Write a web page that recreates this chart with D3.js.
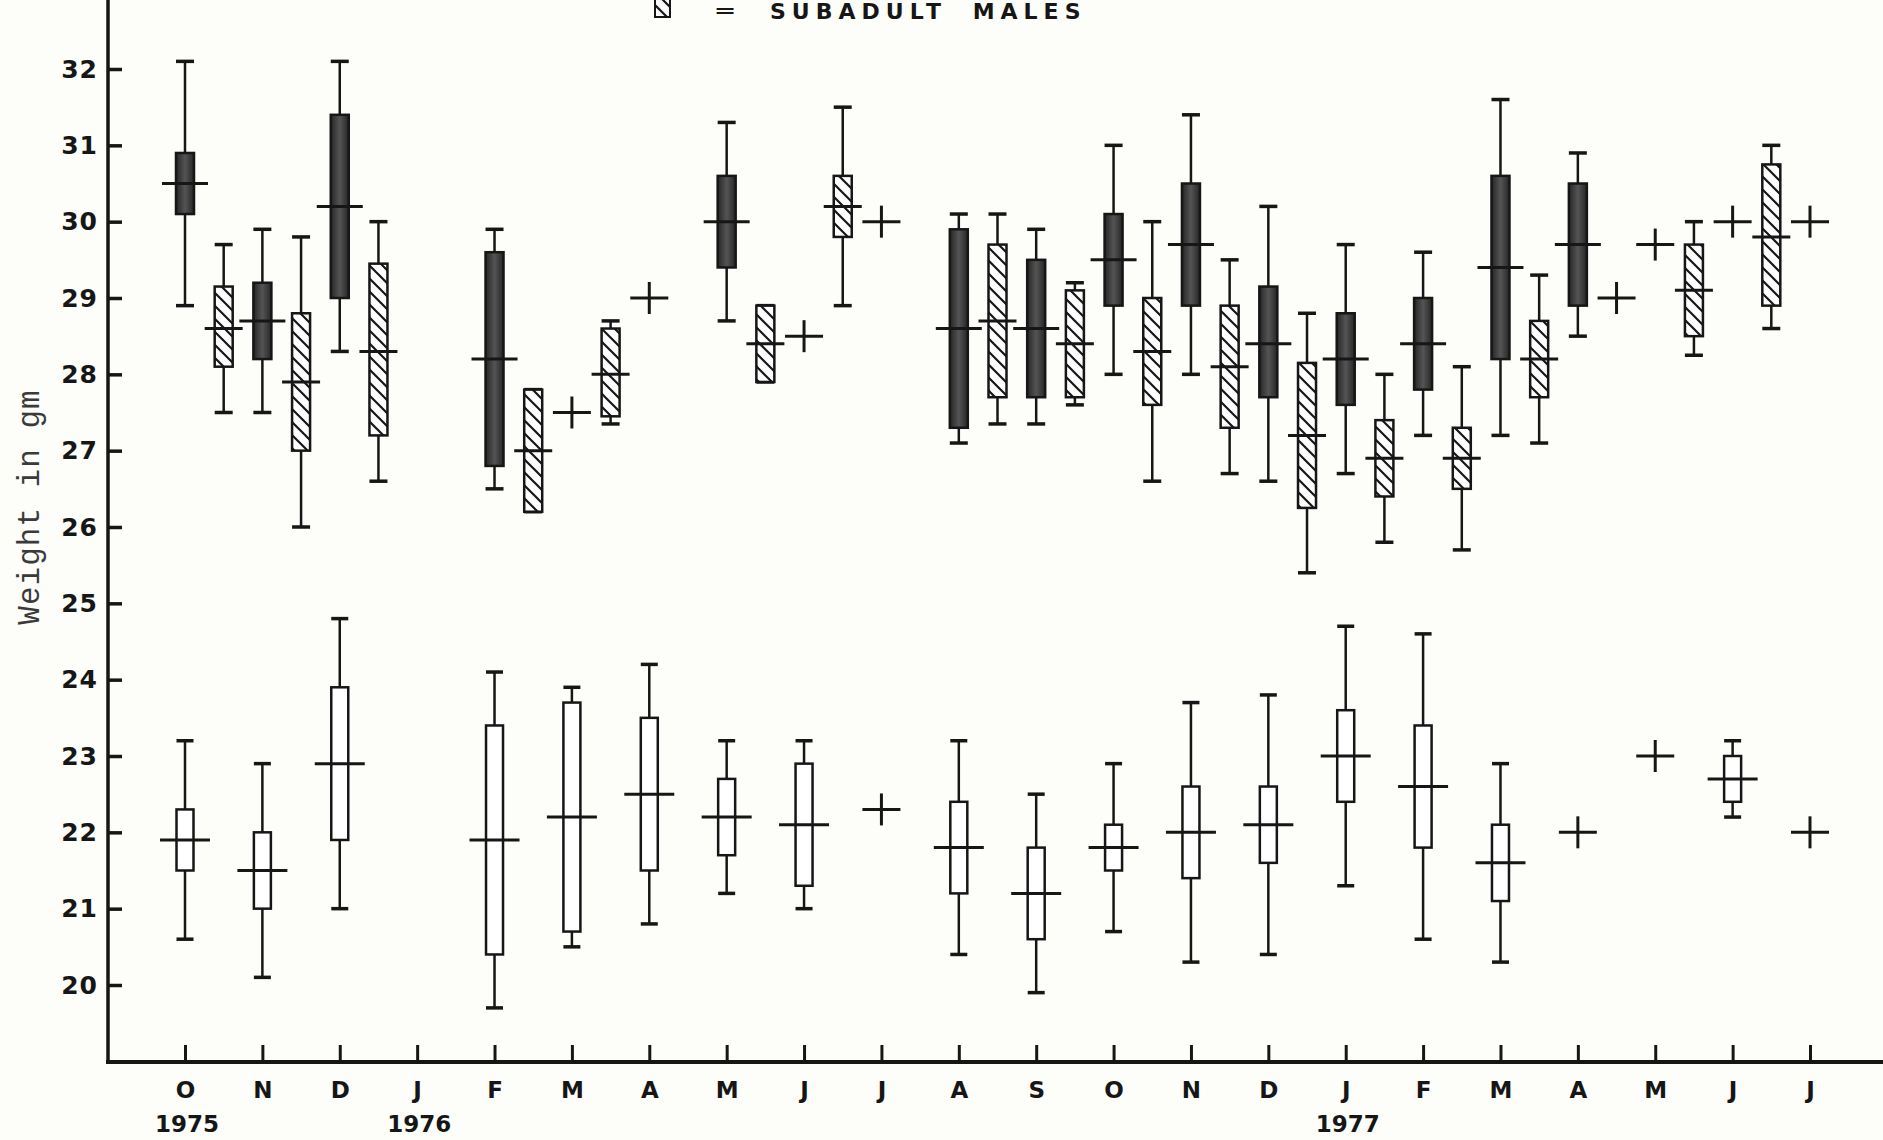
<!DOCTYPE html>
<html>
<head>
<meta charset="utf-8">
<script src="https://cdn.jsdelivr.net/npm/d3@7"></script>
<style>
  body { margin: 0; background: #fdfdf9; }
  svg { display: block; }
</style>
</head>
<body>
<div id="chart"></div>
<script>
// Months on the x axis, Oct 1975 - Jul 1977
const months = ["O", "N", "D", "J", "F", "M", "A", "M", "J", "J", "A",
                "S", "O", "N", "D", "J", "F", "M", "A", "M", "J", "J"];
const yearLabels = ["1975", "1976", "1977"];
const yearAt = [0, 3, 15]; // month index under which each year sits
const yTicks = [20, 21, 22, 23, 24, 25, 26, 27, 28, 29, 30, 31, 32];

// [min, box low, mean, box high, max]; a plain number = single animal (+); null = no sample
const adultMales = [
    [28.9, 30.1, 30.5, 30.9, 32.1],
    [27.5, 28.2, 28.7, 29.2, 29.9],
    [28.3, 29.0, 30.2, 31.4, 32.1],
    null,
    [26.5, 26.8, 28.2, 29.6, 29.9],
    27.5,
    29.0,
    [28.7, 29.4, 30.0, 30.6, 31.3],
    28.5,
    30.0,
    [27.1, 27.3, 28.6, 29.9, 30.1],
    [27.35, 27.7, 28.6, 29.5, 29.9],
    [28.0, 28.9, 29.5, 30.1, 31.0],
    [28.0, 28.9, 29.7, 30.5, 31.4],
    [26.6, 27.7, 28.4, 29.15, 30.2],
    [26.7, 27.6, 28.2, 28.8, 29.7],
    [27.2, 27.8, 28.4, 29.0, 29.6],
    [27.2, 28.2, 29.4, 30.6, 31.6],
    [28.5, 28.9, 29.7, 30.5, 30.9],
    29.7,
    30.0,
    30.0
];

const subadultMales = [
    [27.5, 28.1, 28.6, 29.15, 29.7],
    [26.0, 27.0, 27.9, 28.8, 29.8],
    [26.6, 27.2, 28.3, 29.45, 30.0],
    null,
    [26.2, 26.2, 27.0, 27.8, 27.8],
    [27.35, 27.45, 28.0, 28.6, 28.7],
    null,
    [27.9, 27.9, 28.4, 28.9, 28.9],
    [28.9, 29.8, 30.2, 30.6, 31.5],
    null,
    [27.35, 27.7, 28.7, 29.7, 30.1],
    [27.6, 27.7, 28.4, 29.1, 29.2],
    [26.6, 27.6, 28.3, 29.0, 30.0],
    [26.7, 27.3, 28.1, 28.9, 29.5],
    [25.4, 26.25, 27.2, 28.15, 28.8],
    [25.8, 26.4, 26.9, 27.4, 28.0],
    [25.7, 26.5, 26.9, 27.3, 28.1],
    [27.1, 27.7, 28.2, 28.7, 29.3],
    29.0,
    [28.25, 28.5, 29.1, 29.7, 30.0],
    [28.6, 28.9, 29.8, 30.75, 31.0],
    null
];

const females = [
    [20.6, 21.5, 21.9, 22.3, 23.2],
    [20.1, 21.0, 21.5, 22.0, 22.9],
    [21.0, 21.9, 22.9, 23.9, 24.8],
    null,
    [19.7, 20.4, 21.9, 23.4, 24.1],
    [20.5, 20.7, 22.2, 23.7, 23.9],
    [20.8, 21.5, 22.5, 23.5, 24.2],
    [21.2, 21.7, 22.2, 22.7, 23.2],
    [21.0, 21.3, 22.1, 22.9, 23.2],
    22.3,
    [20.4, 21.2, 21.8, 22.4, 23.2],
    [19.9, 20.6, 21.2, 21.8, 22.5],
    [20.7, 21.5, 21.8, 22.1, 22.9],
    [20.3, 21.4, 22.0, 22.6, 23.7],
    [20.4, 21.6, 22.1, 22.6, 23.8],
    [21.3, 22.4, 23.0, 23.6, 24.7],
    [20.6, 21.8, 22.6, 23.4, 24.6],
    [20.3, 21.1, 21.6, 22.1, 22.9],
    22.0,
    23.0,
    [22.2, 22.4, 22.7, 23.0, 23.2],
    22.0
];

const width = 1883, height = 1140;
const axisX = 108, axisY = 1062;
const ink = "#161616";

const svg = d3.select("#chart")
    .append("svg")
    .attr("width", width)
    .attr("height", height);

// Patterns: hatched boxes and shaded boxes
const defs = svg.append("defs");
const hatch = defs.append("pattern")
    .attr("id", "hatch")
    .attr("patternUnits", "userSpaceOnUse")
    .attr("width", 13)
    .attr("height", 13);
hatch.append("rect").attr("width", 13).attr("height", 13).attr("fill", "#fff");
hatch.append("path")
    .attr("d", "M-3,-3 L16,16 M-3,10 L3,16 M10,-3 L16,3")
    .attr("stroke", ink)
    .attr("stroke-width", 2.2);

const shade = defs.append("linearGradient").attr("id", "shade");
shade.append("stop").attr("offset", "0%").attr("stop-color", "#262626");
shade.append("stop").attr("offset", "50%").attr("stop-color", "#545454");
shade.append("stop").attr("offset", "100%").attr("stop-color", "#262626");

// Scales
const x = d3.scalePoint()
    .domain(d3.range(months.length))
    .range([185, 1810]);
const y = d3.scaleLinear()
    .domain([20, 32])
    .range([985, 69]);
const half = x.step() / 2;

// Y axis (ticks point inwards)
const yAxis = svg.append("g")
    .attr("transform", `translate(${axisX},0)`)
    .call(d3.axisLeft(y).tickValues(yTicks).tickSize(-14).tickPadding(10).tickFormat(d3.format("d")));
yAxis.select(".domain").remove();
yAxis.selectAll(".tick line").attr("stroke", ink).attr("stroke-width", 3.5);
yAxis.selectAll(".tick text")
    .attr("fill", ink)
    .style("font-family", "'DejaVu Sans', sans-serif")
    .style("font-weight", "bold")
    .style("font-size", "25px")
    .style("letter-spacing", "1px");

// X axis (ticks point upwards)
const xAxis = svg.append("g")
    .attr("transform", `translate(0,${axisY})`)
    .call(d3.axisBottom(x).tickSize(-17).tickPadding(20).tickFormat((i) => months[i]));
xAxis.select(".domain").remove();
xAxis.selectAll(".tick line").attr("stroke", ink).attr("stroke-width", 3);
xAxis.selectAll(".tick text")
    .attr("fill", ink)
    .style("font-family", "'DejaVu Sans', sans-serif")
    .style("font-weight", "bold")
    .style("font-size", "23px");

// Axis lines
svg.append("line")
    .attr("x1", axisX).attr("x2", axisX)
    .attr("y1", 0).attr("y2", axisY + 2)
    .attr("stroke", ink).attr("stroke-width", 3.5);
svg.append("line")
    .attr("x1", axisX - 2).attr("x2", width)
    .attr("y1", axisY).attr("y2", axisY)
    .attr("stroke", ink).attr("stroke-width", 4);

// Year labels under the month letters
svg.append("g")
    .selectAll("text")
    .data(yearLabels)
    .enter()
    .append("text")
    .attr("x", (d, i) => x(yearAt[i]) + 2)
    .attr("y", 1132)
    .attr("text-anchor", "middle")
    .attr("fill", ink)
    .style("font-family", "'DejaVu Sans', sans-serif")
    .style("font-weight", "bold")
    .style("font-size", "23px")
    .text((d) => d);

// Y axis title
svg.append("text")
    .attr("transform", "translate(30,507) rotate(-90)")
    .attr("text-anchor", "middle")
    .attr("dominant-baseline", "central")
    .attr("fill", "#3a3a3a")
    .style("font-family", "'Liberation Mono', 'Courier New', monospace")
    .style("font-size", "31px")
    .style("letter-spacing", "1px")
    .text("Weight in gm");

// Legend fragment at top (rest is cut off in the source)
svg.append("rect")
    .attr("x", 655).attr("y", -6)
    .attr("width", 15).attr("height", 23)
    .attr("fill", "url(#hatch)")
    .attr("stroke", ink).attr("stroke-width", 2);
svg.append("text")
    .attr("transform", "translate(725,11) scale(1.5,1)")
    .attr("text-anchor", "middle")
    .attr("dominant-baseline", "central")
    .attr("fill", ink)
    .style("font-family", "'DejaVu Sans', sans-serif")
    .style("font-weight", "bold")
    .style("font-size", "18px")
    .text("=");
svg.append("text")
    .attr("x", 770).attr("y", 19)
    .attr("fill", ink)
    .style("font-family", "'DejaVu Sans', sans-serif")
    .style("font-weight", "bold")
    .style("font-size", "22px")
    .style("letter-spacing", "6px")
    .style("word-spacing", "12px")
    .text("SUBADULT MALES");

// Draw one series of range / box / mean marks
function drawSeries(data, offset, opts) {
    const g = svg.append("g");
    data.forEach((d, i) => {
        if (d === null) return;
        const cx = x(i) + offset;

        if (typeof d === "number") {
            // single specimen -> plus sign
            g.append("line")
                .attr("x1", cx - 19).attr("x2", cx + 19)
                .attr("y1", y(d)).attr("y2", y(d))
                .attr("stroke", ink).attr("stroke-width", 3);
            g.append("line")
                .attr("x1", cx).attr("x2", cx)
                .attr("y1", y(d) - 16).attr("y2", y(d) + 16)
                .attr("stroke", ink).attr("stroke-width", 3);
            return;
        }

        const [lo, q1, mid, q3, hi] = d;
        // range line
        g.append("line")
            .attr("x1", cx).attr("x2", cx)
            .attr("y1", y(hi)).attr("y2", y(lo))
            .attr("stroke", ink).attr("stroke-width", 2.5);
        // end caps
        [lo, hi].forEach((v) => {
            g.append("line")
                .attr("x1", cx - opts.capW / 2).attr("x2", cx + opts.capW / 2)
                .attr("y1", y(v)).attr("y2", y(v))
                .attr("stroke", ink).attr("stroke-width", 3.5);
        });
        // box
        g.append("rect")
            .attr("x", cx - opts.boxW / 2)
            .attr("y", y(q3))
            .attr("width", opts.boxW)
            .attr("height", y(q1) - y(q3))
            .attr("fill", opts.fill)
            .attr("stroke", ink)
            .attr("stroke-width", 2.5);
        // mean line
        g.append("line")
            .attr("x1", cx - opts.midW / 2).attr("x2", cx + opts.midW / 2)
            .attr("y1", y(mid)).attr("y2", y(mid))
            .attr("stroke", ink).attr("stroke-width", 3);
    });
}

drawSeries(females, 0, { boxW: 17, capW: 17, midW: 50, fill: "#fff" });
drawSeries(adultMales, 0, { boxW: 18, capW: 18, midW: 46, fill: "url(#shade)" });
drawSeries(subadultMales, half, { boxW: 18, capW: 18, midW: 38, fill: "url(#hatch)" });
</script>
</body>
</html>
